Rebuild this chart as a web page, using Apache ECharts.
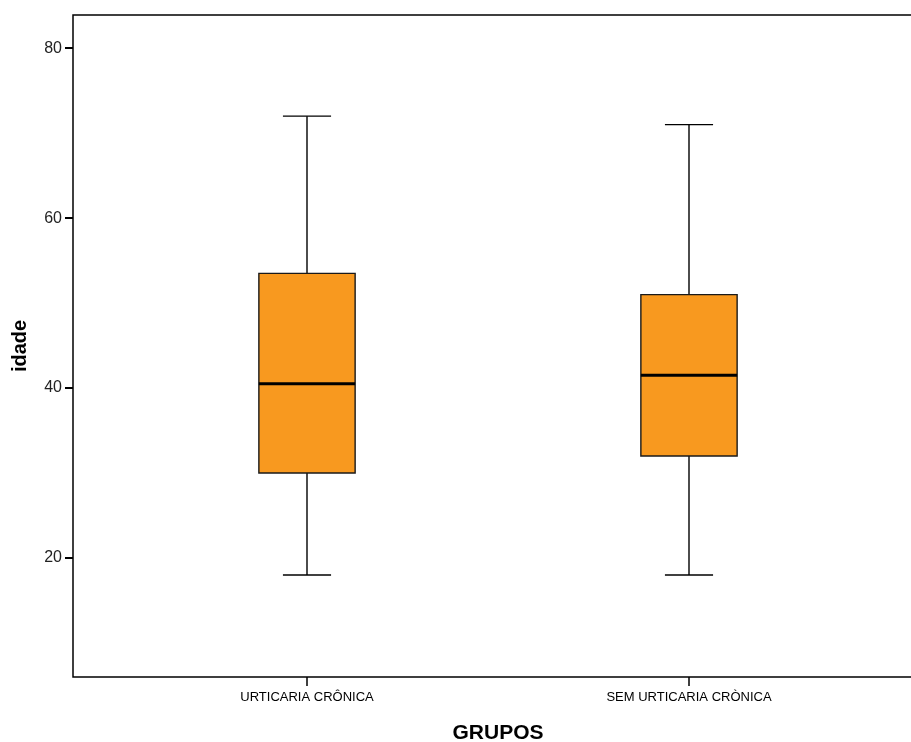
<!DOCTYPE html>
<html>
<head>
<meta charset="utf-8">
<script src="https://cdn.jsdelivr.net/npm/echarts@6/dist/echarts.min.js"></script>
<style>html,body{margin:0;padding:0;background:#fff}#c{width:911px;height:742px}</style>
</head>
<body>
<div id="c"></div>
<script>
var categories = ['URTICARIA CRÔNICA', 'SEM URTICARIA CRÒNICA'];
var whiskerLow = [18, 18];
var q1 = [30, 32];
var median = [40.5, 41.5];
var q3 = [53.5, 51];
var whiskerHigh = [72, 71];
var yTicks = [20, 40, 60, 80];

var data = categories.map(function (c, i) {
  return [i, whiskerLow[i], q1[i], median[i], q3[i], whiskerHigh[i]];
});

var chart = echarts.init(document.getElementById('c'), null, {renderer: 'canvas'});
var fontFam = '"Liberation Sans", Arial, sans-serif';

chart.setOption({
  animation: false,
  backgroundColor: '#fff',
  grid: [
    {left: 116, right: 31, top: 15, bottom: 65, outerBoundsMode: 'none', containLabel: false},
    {left: 73, right: -20, top: 15, bottom: 65, outerBoundsMode: 'none', containLabel: false,
      show: true, borderColor: '#000', borderWidth: 1.5, backgroundColor: 'transparent', z: 0}
  ],
  xAxis: [
    {
      type: 'category', gridIndex: 0, data: categories,
      axisLine: {show: false},
      axisTick: {show: true, alignWithLabel: true, length: 9, lineStyle: {color: '#000', width: 1.5}},
      axisLabel: {margin: 14, fontFamily: fontFam, fontSize: 13, color: '#000'},
      name: 'GRUPOS', nameLocation: 'middle', nameGap: 46,
      nameTextStyle: {fontFamily: fontFam, fontSize: 21, fontWeight: 'bold', color: '#000'},
      splitLine: {show: false}
    },
    {type: 'value', gridIndex: 1, show: false}
  ],
  yAxis: [
    {
      type: 'value', gridIndex: 0, min: 6, max: 83.9, offset: 43,
      axisLine: {show: false},
      axisTick: {show: true, customValues: yTicks, length: 8, lineStyle: {color: '#000', width: 2}},
      axisLabel: {customValues: yTicks, margin: 11, fontFamily: fontFam, fontSize: 16, color: '#222'},
      splitLine: {show: false},
      name: 'idade', nameLocation: 'middle', nameGap: 43, nameRotate: 90,
      nameTextStyle: {fontFamily: fontFam, fontSize: 20, fontWeight: 'bold', color: '#000'}
    },
    {type: 'value', gridIndex: 1, show: false}
  ],
  series: [{
    type: 'custom',
    xAxisIndex: 0, yAxisIndex: 0,
    data: data,
    encode: {x: 0, y: [1, 2, 3, 4, 5]},
    renderItem: function (params, api) {
      var idx = api.value(0);
      var band = api.size([1, 0])[0];
      var bw = band * 0.252;
      var cw = bw * 0.5;
      var pLow = api.coord([idx, api.value(1)]);
      var pQ1 = api.coord([idx, api.value(2)]);
      var pMed = api.coord([idx, api.value(3)]);
      var pQ3 = api.coord([idx, api.value(4)]);
      var pHigh = api.coord([idx, api.value(5)]);
      var x = pMed[0];
      var line = {stroke: '#000', lineWidth: 1.4};
      return {
        type: 'group',
        children: [
          {type: 'line', shape: {x1: x, y1: pHigh[1], x2: x, y2: pQ3[1]}, style: line},
          {type: 'line', shape: {x1: x, y1: pQ1[1], x2: x, y2: pLow[1]}, style: line},
          {type: 'line', shape: {x1: x - cw / 2, y1: pHigh[1], x2: x + cw / 2, y2: pHigh[1]}, style: line},
          {type: 'line', shape: {x1: x - cw / 2, y1: pLow[1], x2: x + cw / 2, y2: pLow[1]}, style: line},
          {type: 'rect', shape: {x: x - bw / 2, y: pQ3[1], width: bw, height: pQ1[1] - pQ3[1]},
            style: {fill: '#F8991F', stroke: '#1a1a1a', lineWidth: 1.4}},
          {type: 'line', shape: {x1: x - bw / 2, y1: pMed[1], x2: x + bw / 2, y2: pMed[1]},
            style: {stroke: '#000', lineWidth: 3}}
        ]
      };
    }
  }]
});
</script>
</body>
</html>
